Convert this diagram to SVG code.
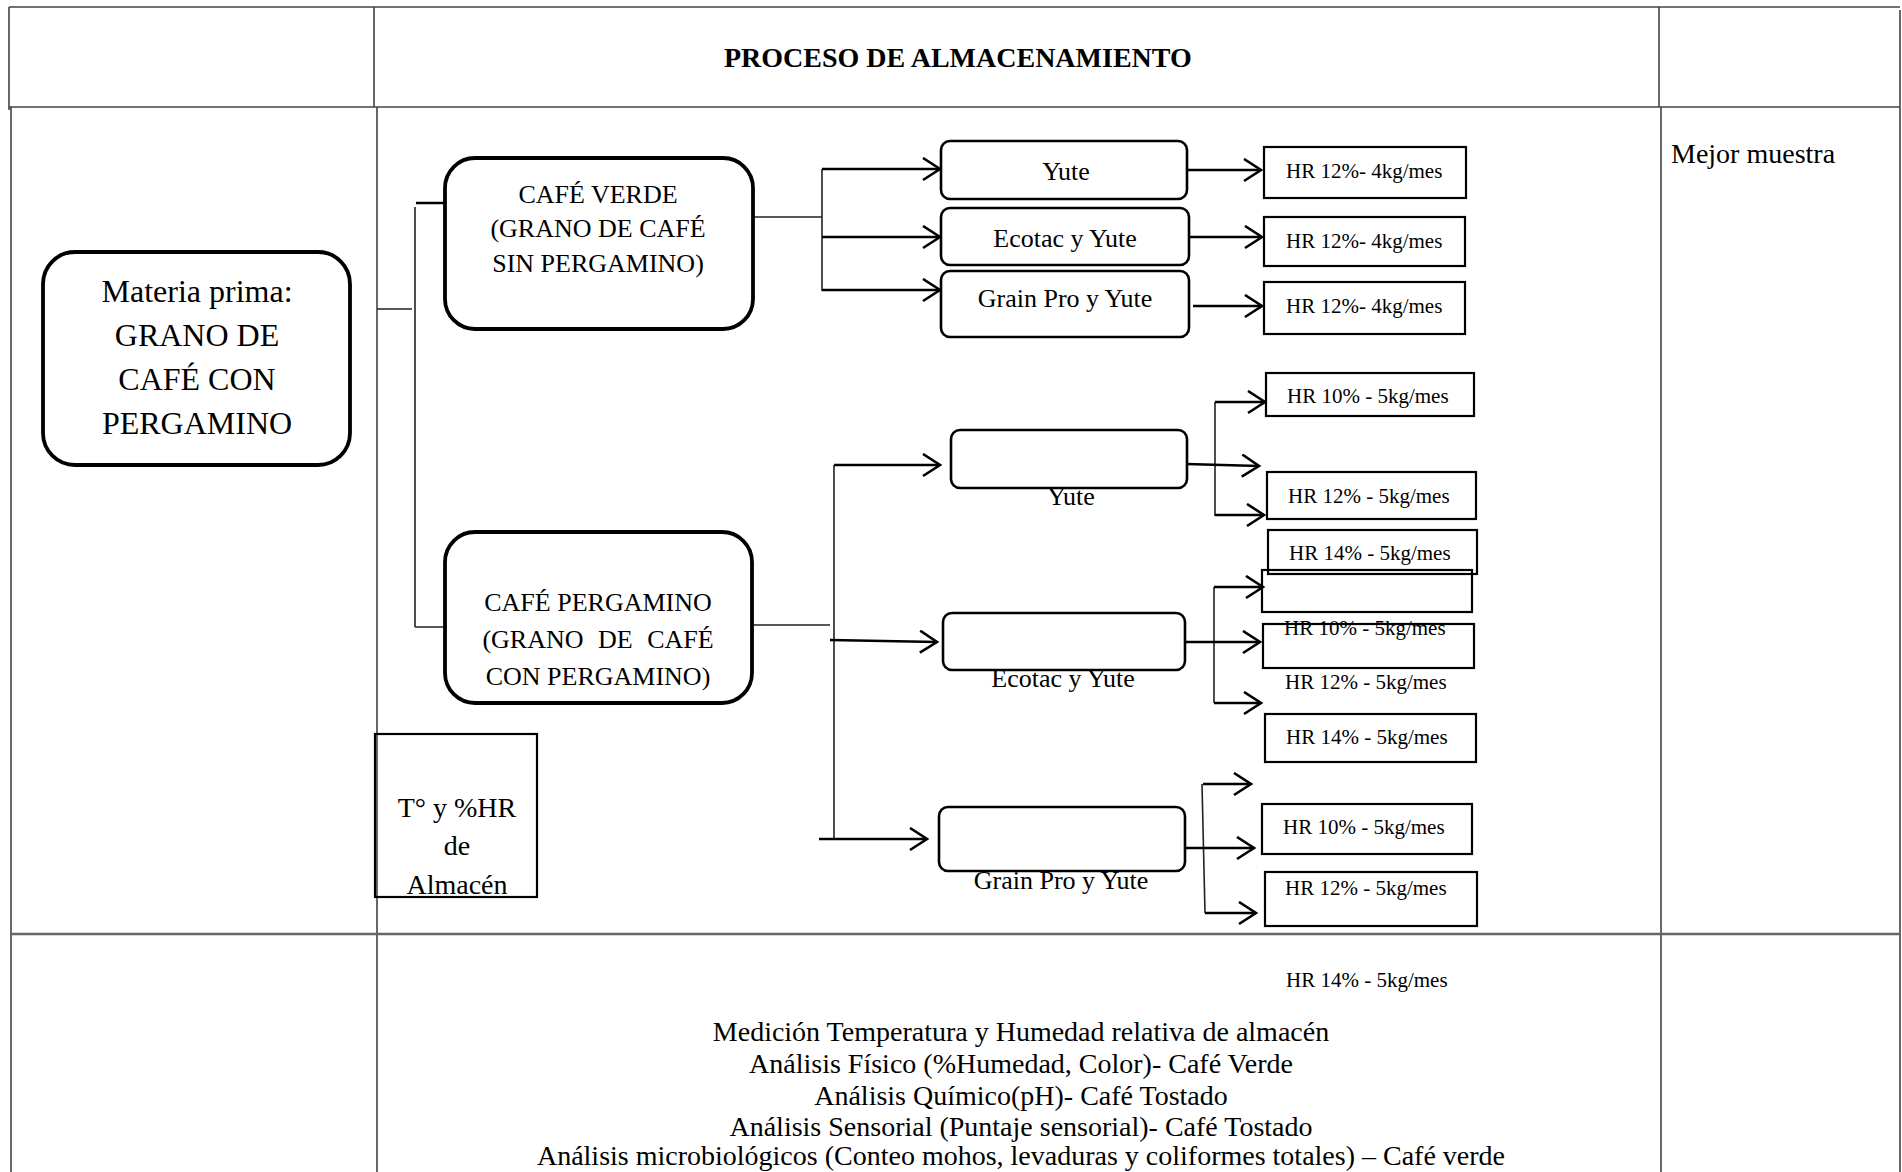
<svg xmlns="http://www.w3.org/2000/svg" width="1902" height="1172" viewBox="0 0 1902 1172">
<style>
text{font-family:"Liberation Serif","Times New Roman",serif;fill:#000}
.tl{stroke:#444;stroke-width:1.6;fill:none}
.big{fill:#fff;stroke:#000;stroke-width:3.8}
.sm{fill:#fff;stroke:#000;stroke-width:2.6}
.hr{fill:none;stroke:#000;stroke-width:2.2}
.thin{stroke:#222;stroke-width:1.6;fill:none}
.arr{stroke:#000;stroke-width:2.6;fill:none;marker-end:url(#ah)}
.t32{font-size:32px;text-anchor:middle}
.t26{font-size:26px;text-anchor:middle}
.t28{font-size:28px}
.t21{font-size:21px}
</style>
<defs>
<marker id="ah" markerUnits="userSpaceOnUse" markerWidth="22" markerHeight="26" refX="18" refY="12" orient="auto">
<path d="M1,1 L18,12 L1,23" fill="none" stroke="#000" stroke-width="2.6"/>
</marker>
</defs>
<rect width="1902" height="1172" fill="#fff"/>
<g id="table">
<path class="tl" d="M9,7 H1900 M9,107 H1900 M9,7 V110 M11,107 V1172 M374,7 V107 M377,107 V1172 M1659,7 V107 M1661,107 V1172 M1900,10 V1172"/>
<path d="M11,934 H1900" stroke="#666" stroke-width="2.6"/>
<text x="724" y="67" class="t28" font-weight="bold">PROCESO DE ALMACENAMIENTO</text>
<text x="1671" y="163" class="t28">Mejor muestra</text>
</g>
<g id="connectors">
<path class="thin" d="M377,309 H412 M415,207 V627 M415,627 H444 M754,217 H822 M822,169 V291 M754,625 H830 M834,465 V839 M1215,402 V516 M1214,587 V703 M1202,784 L1205,913"/>
<path d="M416,203 H455" stroke="#000" stroke-width="2.6"/>
<path class="arr" d="M822,169 H940"/>
<path class="arr" d="M822,237 H940"/>
<path class="arr" d="M822,290 H940"/>
<path class="arr" d="M1187,170 H1261"/>
<path class="arr" d="M1189,237 H1262"/>
<path class="arr" d="M1193,306 H1262"/>
<path class="arr" d="M834,465 H940"/>
<path class="arr" d="M830,640 L937,642"/>
<path class="arr" d="M819,839 H927"/>
<path class="arr" d="M1186,464 L1259,466"/>
<path class="arr" d="M1215,402 H1265"/>
<path class="arr" d="M1215,515 H1264"/>
<path class="arr" d="M1182,642 H1260"/>
<path class="arr" d="M1214,587 H1263"/>
<path class="arr" d="M1214,703 H1261"/>
<path class="arr" d="M1182,848 H1254"/>
<path class="arr" d="M1203,784 H1251"/>
<path class="arr" d="M1205,913 H1256"/>
</g>
<g id="materia">
<rect class="big" x="43" y="252" width="307" height="213" rx="32"/>
<text class="t32" x="197" y="302">Materia prima:</text>
<text class="t32" x="197" y="346">GRANO DE</text>
<text class="t32" x="197" y="390">CAFÉ CON</text>
<text class="t32" x="197" y="434">PERGAMINO</text>
</g>
<g id="cafe-verde">
<rect class="big" x="445" y="158" width="308" height="171" rx="30"/>
<text class="t26" x="598" y="203">CAFÉ VERDE</text>
<text class="t26" x="598" y="237">(GRANO DE CAFÉ</text>
<text class="t26" x="598" y="272">SIN PERGAMINO)</text>
</g>
<g id="cafe-pergamino">
<rect class="big" x="445" y="532" width="307" height="171" rx="30"/>
<text class="t26" x="598" y="611">CAFÉ PERGAMINO</text>
<text class="t26" x="598" y="648" word-spacing="8">(GRANO DE CAFÉ</text>
<text class="t26" x="598" y="685">CON PERGAMINO)</text>
</g>
<g id="yute-1">
<rect class="sm" x="941" y="141" width="246" height="58" rx="9"/>
<text class="t26" x="1066" y="180">Yute</text>
</g>
<g id="ecotac-1">
<rect class="sm" x="941" y="208" width="248" height="57" rx="9"/>
<text class="t26" x="1065" y="247">Ecotac y Yute</text>
</g>
<g id="grain-1">
<rect class="sm" x="941" y="271" width="248" height="66" rx="9"/>
<text class="t26" x="1065" y="307">Grain Pro y Yute</text>
</g>
<g id="hr-v1">
<rect class="hr" x="1264" y="147" width="202" height="51"/>
<text class="t21" x="1286" y="178">HR 12%- 4kg/mes</text>
</g>
<g id="hr-v2">
<rect class="hr" x="1264" y="217" width="201" height="49"/>
<text class="t21" x="1286" y="248">HR 12%- 4kg/mes</text>
</g>
<g id="hr-v3">
<rect class="hr" x="1264" y="282" width="201" height="52"/>
<text class="t21" x="1286" y="313">HR 12%- 4kg/mes</text>
</g>
<g id="yute-2">
<rect class="sm" x="951" y="430" width="236" height="58" rx="9"/>
<text class="t26" x="1071" y="505">Yute</text>
</g>
<g id="ecotac-2">
<rect class="sm" x="943" y="613" width="242" height="57" rx="9"/>
<text class="t26" x="1063" y="687">Ecotac y Yute</text>
</g>
<g id="grain-2">
<rect class="sm" x="939" y="807" width="246" height="64" rx="9"/>
<text class="t26" x="1061" y="889">Grain Pro y Yute</text>
</g>
<g id="hr-y10">
<rect class="hr" x="1266" y="373" width="208" height="43"/>
<text class="t21" x="1287" y="403">HR 10% - 5kg/mes</text>
</g>
<g id="hr-y12">
<rect class="hr" x="1267" y="472" width="209" height="47"/>
<text class="t21" x="1288" y="503">HR 12% - 5kg/mes</text>
</g>
<g id="hr-y14">
<rect class="hr" x="1268" y="530" width="209" height="44"/>
<text class="t21" x="1289" y="560">HR 14% - 5kg/mes</text>
</g>
<g id="hr-e10">
<rect class="hr" x="1262" y="570" width="210" height="42"/>
<rect class="hr" x="1263" y="624" width="211" height="44"/>
<text class="t21" x="1284" y="635">HR 10% - 5kg/mes</text>
</g>
<g id="hr-e12">
<text class="t21" x="1285" y="689">HR 12% - 5kg/mes</text>
</g>
<g id="hr-e14">
<rect class="hr" x="1265" y="714" width="211" height="48"/>
<text class="t21" x="1286" y="744">HR 14% - 5kg/mes</text>
</g>
<g id="hr-g10">
<rect class="hr" x="1262" y="804" width="210" height="50"/>
<text class="t21" x="1283" y="834">HR 10% - 5kg/mes</text>
</g>
<g id="hr-g12">
<rect class="hr" x="1265" y="872" width="212" height="54"/>
<text class="t21" x="1285" y="895">HR 12% - 5kg/mes</text>
</g>
<g id="hr-g14">
<text class="t21" x="1286" y="987">HR 14% - 5kg/mes</text>
</g>
<g id="almacen">
<rect class="hr" x="375" y="734" width="162" height="163"/>
<text class="t28" x="457" y="817" text-anchor="middle">T° y %HR</text>
<text class="t28" x="457" y="855" text-anchor="middle">de</text>
<text class="t28" x="457" y="894" text-anchor="middle">Almacén</text>
</g>
<g id="analisis">
<text class="t28" x="1021" y="1041" text-anchor="middle">Medición Temperatura y Humedad relativa de almacén</text>
<text class="t28" x="1021" y="1073" text-anchor="middle">Análisis Físico (%Humedad, Color)- Café Verde</text>
<text class="t28" x="1021" y="1105" text-anchor="middle">Análisis Químico(pH)- Café Tostado</text>
<text class="t28" x="1021" y="1136" text-anchor="middle">Análisis Sensorial (Puntaje sensorial)- Café Tostado</text>
<text class="t28" x="1021" y="1165" text-anchor="middle">Análisis microbiológicos (Conteo mohos, levaduras y coliformes totales) – Café verde</text>
</g>
</svg>
